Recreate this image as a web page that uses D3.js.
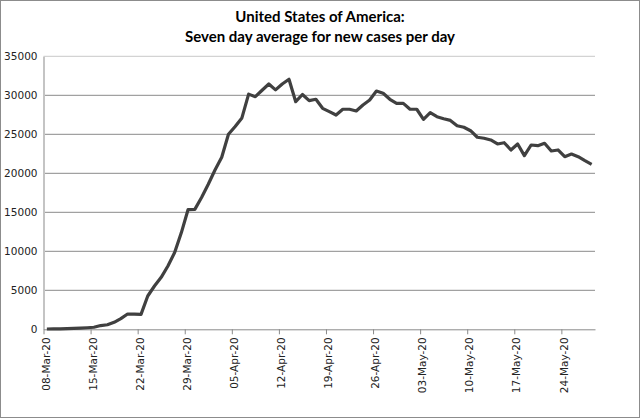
<!DOCTYPE html>
<html>
<head>
<meta charset="utf-8">
<script src="https://cdn.jsdelivr.net/npm/d3@7"></script>
<style>
  body { margin: 0; background: #fff; }
  svg { display: block; }
</style>
</head>
<body>
<div class="chart__container"></div>
<script>
// data
const FIRST_DAY = "2020-03-08";
const CASES = [
  40, 50, 60, 80, 110, 150, 200, 260, 480, 580,
  900, 1370, 1960, 1950, 1920, 4270, 5550, 6660, 8110, 9850,
  12400, 15350, 15380, 16900, 18600, 20420, 22050, 25000, 26000, 27100,
  30150, 29820, 30650, 31450, 30700, 31450, 32050, 29180, 30100, 29310,
  29490, 28330, 27900, 27470, 28210, 28210, 27990, 28760, 29400, 30550,
  30260, 29490, 28970, 28970, 28210, 28210, 26920, 27770, 27260, 27000,
  26780, 26100, 25900, 25460, 24620, 24490, 24270, 23760, 23920, 22990,
  23760, 22260, 23630, 23540, 23850, 22860, 22990, 22130, 22470, 22130,
  21620, 21150
];
const X_TICK_LABELS = ["08-Mar-20", "15-Mar-20", "22-Mar-20", "29-Mar-20", "05-Apr-20", "12-Apr-20",
  "19-Apr-20", "26-Apr-20", "03-May-20", "10-May-20", "17-May-20", "24-May-20"];
const Y_TICKS = [0, 5000, 10000, 15000, 20000, 25000, 30000, 35000];
const TITLE_LINES = ["United States of America:", "Seven day average for new cases per day"];

const CHART__WIDTH = 640;
const CHART__HEIGHT = 418;
const PLOT = { left: 43.5, right: 595, top: 56.3, bottom: 329.3 };

const parseDay = d3.utcParse("%Y-%m-%d");
const parseTick = d3.utcParse("%d-%b-%y");
const start = parseDay(FIRST_DAY);

// each point sits in the middle of its day slot
const points = CASES.map((v, i) => ({
  date: d3.utcHour.offset(d3.utcDay.offset(start, i), 12),
  value: v
}));

const xScale = d3.scaleUtc()
  .domain([start, d3.utcDay.offset(start, CASES.length)])
  .range([PLOT.left, PLOT.right]);
const yScale = d3.scaleLinear()
  .domain([0, 35000])
  .range([PLOT.bottom, PLOT.top]);

const svg = d3.select(".chart__container").append("svg")
  .attr("width", CHART__WIDTH)
  .attr("height", CHART__HEIGHT);

// outer frame
svg.append("rect")
  .attr("x", 0.5).attr("y", 0.5)
  .attr("width", CHART__WIDTH - 1).attr("height", CHART__HEIGHT - 1)
  .attr("fill", "#fff")
  .attr("stroke", "#8c8c8c");

// title
svg.append("g").selectAll("text")
  .data(TITLE_LINES)
  .join("text")
  .attr("x", 320)
  .attr("y", (d, i) => 22 + i * 20)
  .attr("text-anchor", "middle")
  .style("font-family", "Lato, 'Open Sans', sans-serif")
  .style("font-weight", "bold")
  .style("font-size", "15px")
  .attr("fill", "#000")
  .text(d => d);

// gridlines
svg.append("g")
  .selectAll("line")
  .data(Y_TICKS.filter(d => d > 0))
  .join("line")
  .attr("x1", PLOT.left).attr("x2", PLOT.right)
  .attr("y1", d => yScale(d)).attr("y2", d => yScale(d))
  .attr("stroke", d => d === 35000 ? "#c8c8c8" : "#8a8a8a")
  .attr("stroke-width", 1);

// y axis
const yAxis = svg.append("g")
  .attr("transform", `translate(${PLOT.left},0)`)
  .call(d3.axisLeft(yScale).tickValues(Y_TICKS).tickSize(0).tickPadding(6)
    .tickFormat(d3.format("d")));
yAxis.select(".domain").attr("stroke", "#c4c4c4").attr("stroke-width", 2);
yAxis.selectAll("text")
  .attr("font-family", "'DejaVu Sans', sans-serif")
  .attr("font-size", 10.5)
  .attr("fill", "#222");

// x axis
const xTicks = X_TICK_LABELS.map(parseTick);
const xAxis = svg.append("g")
  .attr("transform", `translate(0,${PLOT.bottom})`)
  .call(d3.axisBottom(xScale).tickValues(xTicks).tickSize(5).tickSizeOuter(0)
    .tickFormat(d3.utcFormat("%d-%b-%y")));
xAxis.select(".domain").attr("stroke", "#8a8a8a");
xAxis.selectAll(".tick line").attr("stroke", "#8a8a8a");
xAxis.selectAll("text")
  .attr("font-family", "'DejaVu Sans', sans-serif")
  .attr("font-size", 10.5)
  .attr("fill", "#222")
  .attr("text-anchor", "end")
  .attr("transform", "rotate(-90)")
  .attr("x", -8)
  .attr("y", 2)
  .attr("dy", "0.35em");

// line
const line = d3.line()
  .x(d => xScale(d.date))
  .y(d => yScale(d.value));

svg.append("path")
  .datum(points)
  .attr("d", line)
  .attr("fill", "none")
  .attr("stroke", "#404040")
  .attr("stroke-width", 3.2)
  .attr("stroke-linejoin", "round");
</script>
</body>
</html>
